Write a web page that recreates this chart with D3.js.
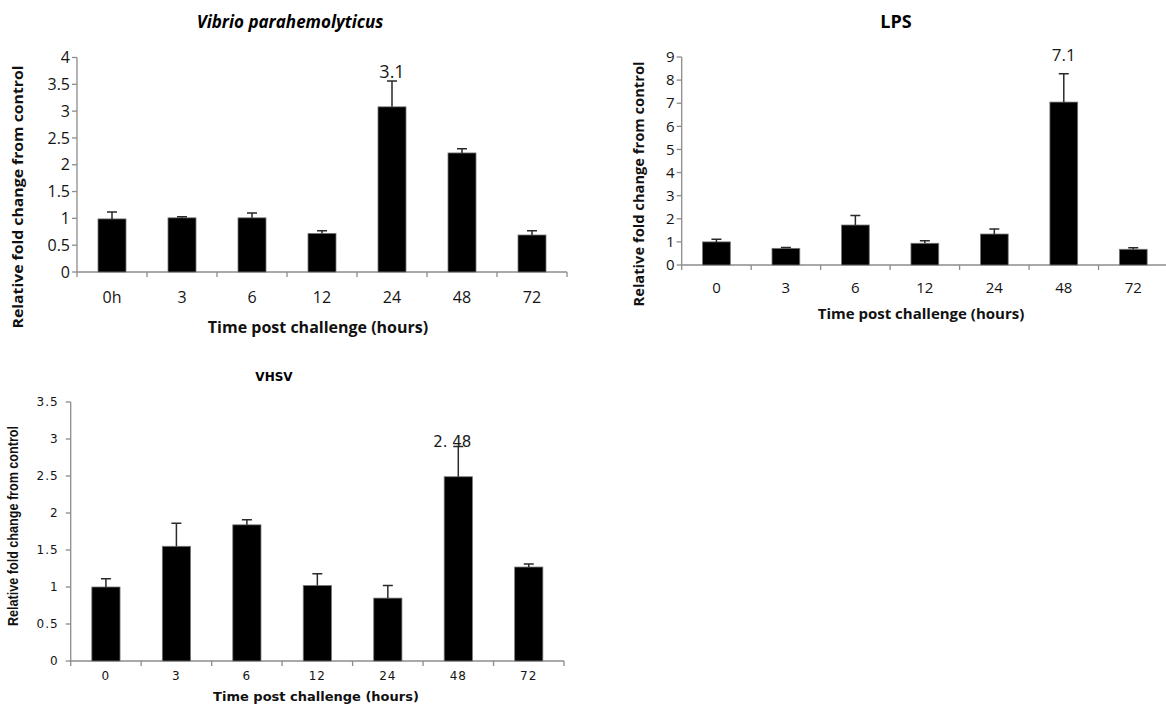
<!DOCTYPE html>
<html>
<head>
<meta charset="utf-8">
<script src="https://cdn.jsdelivr.net/npm/d3@7"></script>
<style>
  body { margin: 0; background: #fff; }
  svg { display: block; }
</style>
</head>
<body>
<svg id="chart" width="1166" height="709"></svg>
<script>
// data
var vibrioCats = ["0h", "3", "6", "12", "24", "48", "72"];
var vibrioMeans = [0.99, 1.01, 1.01, 0.72, 3.08, 2.22, 0.69];
var vibrioErrs = [0.13, 0.02, 0.09, 0.05, 0.48, 0.08, 0.08];
var vibrioTicks = [0, 0.5, 1, 1.5, 2, 2.5, 3, 3.5, 4];

var lpsCats = ["0", "3", "6", "12", "24", "48", "72"];
var lpsMeans = [1.0, 0.72, 1.73, 0.94, 1.34, 7.05, 0.68];
var lpsErrs = [0.11, 0.04, 0.41, 0.11, 0.22, 1.23, 0.07];
var lpsTicks = [0, 1, 2, 3, 4, 5, 6, 7, 8, 9];

var vhsvCats = ["0", "3", "6", "12", "24", "48", "72"];
var vhsvMeans = [1.0, 1.55, 1.84, 1.02, 0.85, 2.49, 1.27];
var vhsvErrs = [0.11, 0.31, 0.07, 0.16, 0.17, 0.41, 0.04];
var vhsvTicks = [0, 0.5, 1, 1.5, 2, 2.5, 3, 3.5];

var svg = d3.select("#chart");

function drawPanel(p) {
    var g = svg.append("g");

    var x = d3.scaleBand().domain(p.cats).range([p.x0, p.x1]).paddingInner(0.6).paddingOuter(0.3);
    var y = d3.scaleLinear().domain([0, p.max]).range([p.y0, p.y1]);

    // axes lines
    g.append("line")
        .attr("x1", p.x0).attr("x2", p.x0)
        .attr("y1", y(p.max)).attr("y2", p.y0)
        .attr("stroke", "#8c8c8c").attr("stroke-width", 1.3);
    g.append("line")
        .attr("x1", p.x0).attr("x2", p.x1)
        .attr("y1", p.y0).attr("y2", p.y0)
        .attr("stroke", "#8c8c8c").attr("stroke-width", 1.3);

    // y ticks
    g.selectAll(".ytick")
        .data(p.ticks)
        .enter()
        .append("line")
        .attr("x1", p.x0 - 5).attr("x2", p.x0)
        .attr("y1", function (d) { return y(d); })
        .attr("y2", function (d) { return y(d); })
        .attr("stroke", "#8c8c8c").attr("stroke-width", 1.3);

    g.selectAll(".ylab")
        .data(p.ticks)
        .enter()
        .append("text")
        .attr("x", p.x0 - p.ylabGap)
        .attr("y", function (d) { return y(d); })
        .attr("dy", "0.35em")
        .attr("text-anchor", "end")
        .style("font-family", p.tickFont)
        .style("font-size", p.tickSize + "px")
        .style("font-weight", p.tickWeight)
        .style("letter-spacing", p.tickSpacing || "0px")
        .attr("fill", "#141414")
        .text(function (d) { return d; });

    // x ticks at band edges
    var edges = p.cats.map(function (c) { return x(c) - x.step() * x.paddingInner() / 2; });
    edges.push(p.x1);
    g.selectAll(".xtick")
        .data(edges)
        .enter()
        .append("line")
        .attr("x1", function (d) { return d; })
        .attr("x2", function (d) { return d; })
        .attr("y1", p.y0).attr("y2", p.y0 + 5)
        .attr("stroke", "#8c8c8c").attr("stroke-width", 1.3);

    g.selectAll(".xlab")
        .data(p.cats)
        .enter()
        .append("text")
        .attr("x", function (d) { return x(d) + x.bandwidth() / 2; })
        .attr("y", p.y0 + p.xlabGap)
        .attr("text-anchor", "middle")
        .style("font-family", p.tickFont)
        .style("font-size", p.tickSize + "px")
        .style("font-weight", p.tickWeight)
        .style("letter-spacing", p.tickSpacing || "0px")
        .attr("fill", "#141414")
        .text(function (d) { return d; });

    // bars
    g.selectAll(".bar")
        .data(p.means)
        .enter()
        .append("rect")
        .attr("x", function (d, i) { return x(p.cats[i]); })
        .attr("y", function (d) { return y(d); })
        .attr("width", x.bandwidth())
        .attr("height", function (d) { return p.y0 - y(d); })
        .attr("fill", "#000")
        .attr("stroke", "#777")
        .attr("stroke-width", 0.8);

    // error bars (upper only)
    g.selectAll(".err")
        .data(p.means)
        .enter()
        .append("path")
        .attr("d", function (d, i) {
            var cx = x(p.cats[i]) + x.bandwidth() / 2;
            var top = y(d + p.errs[i]);
            return "M" + cx + "," + y(d) + "V" + top + "M" + (cx - 5) + "," + top + "H" + (cx + 5);
        })
        .attr("fill", "none")
        .attr("stroke", "#2a2a2a")
        .attr("stroke-width", 1.5);

    // value annotation
    var ai = p.annotIndex;
    g.append("text")
        .attr("x", x(p.cats[ai]) + x.bandwidth() / 2 + p.annotDx)
        .attr("y", y(p.means[ai] + p.errs[ai]) + p.annotDy)
        .attr("text-anchor", "middle")
        .style("font-family", p.annotFont)
        .style("font-size", p.annotSize + "px")
        .attr("fill", "#1a1a1a")
        .text(p.annotText);

    // titles
    g.append("text")
        .attr("x", p.titleX).attr("y", p.titleY)
        .attr("text-anchor", "middle")
        .style("font-family", p.titleFont)
        .style("font-size", p.titleSize + "px")
        .style("font-weight", "bold")
        .style("font-style", p.titleStyle || "normal")
        .text(p.title);

    g.append("text")
        .attr("x", p.xtitleX).attr("y", p.xtitleY)
        .attr("text-anchor", "middle")
        .style("font-family", p.axisFont)
        .style("font-size", p.xtitleSize + "px")
        .style("font-weight", "bold")
        .attr("fill", "#111")
        .text("Time post challenge (hours)");

    var yt = g.append("text")
        .attr("transform", "translate(" + p.ytitleX + "," + p.ytitleY + ") rotate(-90)")
        .attr("text-anchor", "middle")
        .style("font-family", p.ytitleFont || p.axisFont)
        .style("font-size", p.ytitleSize + "px")
        .style("font-weight", "bold")
        .attr("fill", "#111")
        .text("Relative fold change from control");
    if (p.ytitleLen) yt.attr("textLength", p.ytitleLen).attr("lengthAdjust", "spacingAndGlyphs");
}

drawPanel({
    cats: vibrioCats, means: vibrioMeans, errs: vibrioErrs, ticks: vibrioTicks, max: 4,
    x0: 77, x1: 567, y0: 272, y1: 57.5,
    tickFont: "'Open Sans', sans-serif", tickSize: 16, tickWeight: "normal", ylabGap: 7, xlabGap: 31,
    annotIndex: 4, annotText: "3.1", annotDx: 0, annotDy: -3, annotFont: "'Open Sans', sans-serif", annotSize: 18,
    title: "Vibrio parahemolyticus", titleStyle: "italic", titleX: 290, titleY: 28,
    titleFont: "'Open Sans', sans-serif", titleSize: 17,
    axisFont: "'Open Sans', sans-serif", xtitleX: 318, xtitleY: 333, xtitleSize: 16,
    ytitleX: 23, ytitleY: 197, ytitleSize: 15, ytitleLen: 263
});

drawPanel({
    cats: lpsCats, means: lpsMeans, errs: lpsErrs, ticks: lpsTicks, max: 9,
    x0: 681.7, x1: 1168, y0: 265, y1: 57,
    tickFont: "'Open Sans', sans-serif", tickSize: 15, tickWeight: "normal", ylabGap: 7, xlabGap: 28,
    annotIndex: 5, annotText: "7.1", annotDx: 0, annotDy: -13, annotFont: "'Open Sans', sans-serif", annotSize: 17,
    title: "LPS", titleX: 896, titleY: 28,
    titleFont: "'Open Sans', sans-serif", titleSize: 18,
    axisFont: "'Open Sans', sans-serif", xtitleX: 921, xtitleY: 319, xtitleSize: 15,
    ytitleX: 644, ytitleY: 184, ytitleSize: 14, ytitleLen: 245
});

drawPanel({
    cats: vhsvCats, means: vhsvMeans, errs: vhsvErrs, ticks: vhsvTicks, max: 3.5,
    x0: 70.7, x1: 564, y0: 661, y1: 402,
    tickFont: "'DejaVu Sans', sans-serif", tickSize: 12, tickWeight: "normal",
    tickSpacing: "1px", ylabGap: 12, xlabGap: 19,
    annotIndex: 5, annotText: "2. 48", annotDx: -6, annotDy: 1, annotFont: "'DejaVu Sans', sans-serif", annotSize: 15,
    title: "VHSV", titleX: 274, titleY: 381,
    titleFont: "'DejaVu Sans', sans-serif", titleSize: 12,
    axisFont: "'DejaVu Sans', sans-serif", xtitleX: 316, xtitleY: 701, xtitleSize: 13,
    ytitleFont: "'Liberation Sans Narrow', 'Liberation Sans', sans-serif",
    ytitleX: 18, ytitleY: 526, ytitleSize: 14, ytitleLen: 200
});
</script>
</body>
</html>
